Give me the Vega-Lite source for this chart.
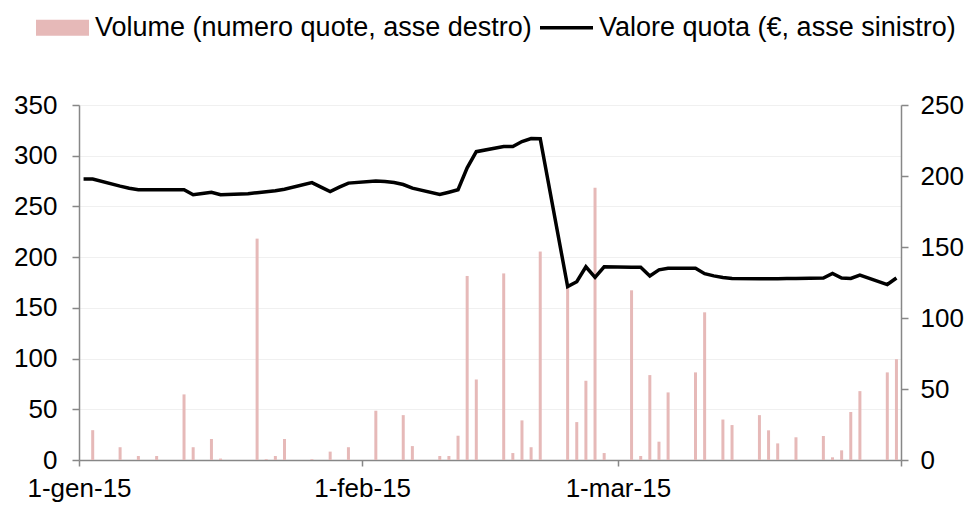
{
  "$schema": "https://vega.github.io/schema/vega-lite/v6.json",
  "width": 822,
  "height": 355,
  "autosize": {"type": "none"},
  "padding": {"left": 79, "top": 105, "right": 68, "bottom": 45},
  "background": "white",
  "config": {
    "view": {"stroke": null},
    "font": "Liberation Sans",
    "axis": {
      "domainColor": "#878787",
      "tickColor": "#878787",
      "domainWidth": 1.5,
      "tickWidth": 1.5,
      "tickSize": 7,
      "labelColor": "#000000",
      "labelFont": "Liberation Sans",
      "labelFontSize": 26,
      "title": null
    }
  },
  "data": {
    "values": [
      {"date": "2015-01-01", "value": 277, "volume": null},
      {"date": "2015-01-02", "value": 277, "volume": 21},
      {"date": "2015-01-05", "value": 270, "volume": 9},
      {"date": "2015-01-06", "value": 268, "volume": null},
      {"date": "2015-01-07", "value": 266.5, "volume": 2.8},
      {"date": "2015-01-08", "value": 266.5, "volume": null},
      {"date": "2015-01-09", "value": 266.5, "volume": 2.8},
      {"date": "2015-01-12", "value": 266.5, "volume": 46.2},
      {"date": "2015-01-13", "value": 261.5, "volume": 9},
      {"date": "2015-01-14", "value": 262.7, "volume": null},
      {"date": "2015-01-15", "value": 264, "volume": 14.8},
      {"date": "2015-01-16", "value": 261.5, "volume": 1},
      {"date": "2015-01-19", "value": 262.5, "volume": null},
      {"date": "2015-01-20", "value": 263.5, "volume": 155.9},
      {"date": "2015-01-21", "value": 264.5, "volume": 0.6},
      {"date": "2015-01-22", "value": 265.5, "volume": 2.8},
      {"date": "2015-01-23", "value": 267, "volume": 14.8},
      {"date": "2015-01-26", "value": 273.5, "volume": 0.6},
      {"date": "2015-01-27", "value": 269, "volume": null},
      {"date": "2015-01-28", "value": 264.7, "volume": 5.9},
      {"date": "2015-01-29", "value": 269, "volume": null},
      {"date": "2015-01-30", "value": 273, "volume": 9},
      {"date": "2015-02-02", "value": 275, "volume": 34.7},
      {"date": "2015-02-03", "value": 274.5, "volume": null},
      {"date": "2015-02-04", "value": 273.5, "volume": null},
      {"date": "2015-02-05", "value": 271.6, "volume": 31.6},
      {"date": "2015-02-06", "value": 268, "volume": 9.8},
      {"date": "2015-02-09", "value": 261.8, "volume": 2.8},
      {"date": "2015-02-10", "value": 264, "volume": 2.8},
      {"date": "2015-02-11", "value": 266.4, "volume": 17.1},
      {"date": "2015-02-12", "value": 288, "volume": 129.6},
      {"date": "2015-02-13", "value": 304, "volume": 56.7},
      {"date": "2015-02-16", "value": 309, "volume": 131.4},
      {"date": "2015-02-17", "value": 309, "volume": 4.9},
      {"date": "2015-02-18", "value": 314, "volume": 27.9},
      {"date": "2015-02-19", "value": 317, "volume": 9},
      {"date": "2015-02-20", "value": 316.7, "volume": 146.8},
      {"date": "2015-02-23", "value": 171, "volume": 124},
      {"date": "2015-02-24", "value": 175.8, "volume": 26.7},
      {"date": "2015-02-25", "value": 190.5, "volume": 55.8},
      {"date": "2015-02-26", "value": 180, "volume": 191.8},
      {"date": "2015-02-27", "value": 190.5, "volume": 4.9},
      {"date": "2015-03-02", "value": 190, "volume": 119.5},
      {"date": "2015-03-03", "value": 190, "volume": 2.8},
      {"date": "2015-03-04", "value": 181.5, "volume": 59.8},
      {"date": "2015-03-05", "value": 187.5, "volume": 12.9},
      {"date": "2015-03-06", "value": 189, "volume": 47.6},
      {"date": "2015-03-09", "value": 189, "volume": 61.7},
      {"date": "2015-03-10", "value": 183.7, "volume": 104},
      {"date": "2015-03-11", "value": 181.5, "volume": null},
      {"date": "2015-03-12", "value": 180, "volume": 28.5},
      {"date": "2015-03-13", "value": 179, "volume": 24.6},
      {"date": "2015-03-16", "value": 178.7, "volume": 31.6},
      {"date": "2015-03-17", "value": 178.7, "volume": 20.9},
      {"date": "2015-03-18", "value": 178.8, "volume": 11.7},
      {"date": "2015-03-19", "value": 179, "volume": null},
      {"date": "2015-03-20", "value": 179, "volume": 16},
      {"date": "2015-03-23", "value": 179.4, "volume": 16.9},
      {"date": "2015-03-24", "value": 184, "volume": 1.9},
      {"date": "2015-03-25", "value": 179.4, "volume": 6.8},
      {"date": "2015-03-26", "value": 179, "volume": 33.8},
      {"date": "2015-03-27", "value": 182.4, "volume": 48.5},
      {"date": "2015-03-30", "value": 173, "volume": 61.7},
      {"date": "2015-03-31", "value": 179.4, "volume": 71}
    ]
  },
  "layer": [
    {
      "mark": {"type": "bar", "width": 3},
      "encoding": {
        "x": {
          "field": "date",
          "type": "temporal",
          "timeUnit": "utcyearmonthdate",
          "bandPosition": 0.5,
          "scale": {
            "type": "utc",
            "domain": [
              {"year": 2015, "month": 1, "date": 1, "utc": true},
              {"year": 2015, "month": 4, "date": 1, "utc": true}
            ]
          },
          "axis": {
            "values": [
              {"year": 2015, "month": 1, "date": 1, "utc": true},
              {"year": 2015, "month": 2, "date": 1, "utc": true},
              {"year": 2015, "month": 3, "date": 1, "utc": true},
              {"year": 2015, "month": 4, "date": 1, "utc": true}
            ],
            "labelExpr": "utcmonth(datum.value) == 3 ? '' : utcdate(datum.value) + '-' + ['gen','feb','mar','apr'][utcmonth(datum.value)] + '-15'",
            "labelAlign": "center",
            "labelFlush": false,
            "labelOverlap": false,
            "labelPadding": 9,
            "tickSize": 6,
            "grid": false
          }
        },
        "y": {
          "field": "volume",
          "type": "quantitative",
          "scale": {"domain": [0, 250], "nice": false},
          "axis": {"orient": "right", "values": [0, 50, 100, 150, 200, 250], "grid": false, "labelPadding": 12}
        },
        "color": {
          "datum": "Volume (numero quote, asse destro)",
          "type": "nominal",
          "scale": {
            "domain": ["Volume (numero quote, asse destro)", "Valore quota (€, asse sinistro)"],
            "range": ["#e6b9b8", "#000000"]
          },
          "legend": {
            "orient": "none",
            "direction": "horizontal",
            "legendX": -43,
            "legendY": -104,
            "title": null,
            "padding": 0,
            "labelFont": "Liberation Sans",
            "labelFontSize": 27,
            "labelColor": "#000000",
            "labelLimit": 1000,
            "labelOffset": 6,
            "columnPadding": 8,
            "symbolSize": 2809,
            "encode": {
              "symbols": {
                "update": {
                  "shape": {"signal": "datum.value == 'Volume (numero quote, asse destro)' ? 'M-1,-0.3H1V0.3H-1Z' : 'M-1,-0.065H1V0.065H-1Z'"},
                  "fill": {"signal": "datum.value == 'Volume (numero quote, asse destro)' ? '#e6b9b8' : '#000000'"},
                  "stroke": {"value": "transparent"},
                  "strokeWidth": {"value": 0},
                  "opacity": {"value": 1},
                  "fillOpacity": {"value": 1}
                }
              }
            }
          }
        }
      }
    },
    {
      "mark": {"type": "line", "strokeWidth": 3.5},
      "encoding": {
        "x": {
          "field": "date",
          "type": "temporal",
          "timeUnit": "utcyearmonthdate",
          "bandPosition": 0.5
        },
        "y": {
          "field": "value",
          "type": "quantitative",
          "scale": {"domain": [0, 350], "nice": false},
          "axis": {
            "orient": "left",
            "values": [0, 50, 100, 150, 200, 250, 300, 350],
            "grid": true,
            "gridColor": "#f0f0f0",
            "gridWidth": 1,
            "labelPadding": 15
          }
        },
        "color": {"datum": "Valore quota (€, asse sinistro)", "type": "nominal"}
      }
    }
  ],
  "resolve": {"scale": {"y": "independent"}}
}
